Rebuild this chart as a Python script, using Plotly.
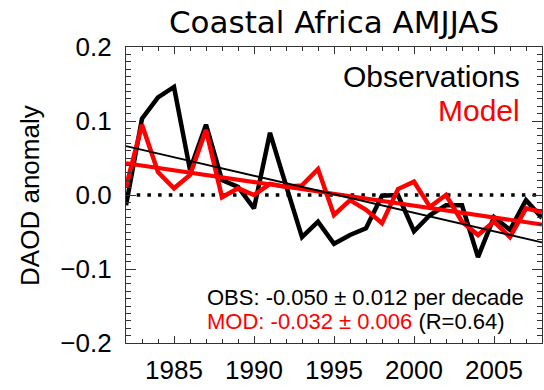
import plotly.graph_objects as go

years = list(range(1982, 2009))
obs = [-0.014, 0.103, 0.132, 0.146, 0.034, 0.095, 0.020, 0.011, -0.018, 0.084,
       0.013, -0.057, -0.036, -0.066, -0.054, -0.045, -0.001, 0.000, -0.049, -0.027,
       -0.014, -0.014, -0.084, -0.030, -0.047, -0.007, -0.031]
mod = [0.011, 0.095, 0.031, 0.009, 0.027, 0.088, -0.003, 0.009, 0.000, 0.015,
       0.011, 0.013, 0.035, -0.027, -0.007, -0.020, -0.038, 0.008, 0.018, -0.016,
       0.000, -0.036, -0.054, -0.036, -0.057, -0.018, -0.023]
trend_years = [1982, 2008]
obs_trend = [0.066, -0.064]
mod_trend = [0.043, -0.040]
zero_line = [0.0, 0.0]

RED = "#ff0000"
ARIAL = "Liberation Sans, Arial, sans-serif"

fig = go.Figure()
fig.add_trace(go.Scatter(x=trend_years, y=zero_line, mode="lines",
                         line=dict(color="black", width=3.5, dash="3.5px,7.2px")))
fig.add_trace(go.Scatter(x=years, y=obs, mode="lines",
                         line=dict(color="black", width=4.5)))
fig.add_trace(go.Scatter(x=years, y=mod, mode="lines",
                         line=dict(color=RED, width=4.5)))
fig.add_trace(go.Scatter(x=trend_years, y=mod_trend, mode="lines",
                         line=dict(color=RED, width=4)))
fig.add_trace(go.Scatter(x=trend_years, y=obs_trend, mode="lines",
                         line=dict(color="black", width=1.8)))

axis_common = dict(showline=True, linecolor="#333", linewidth=1.2, mirror="allticks",
                   ticks="inside", tickcolor="#333", showgrid=False, zeroline=False,
                   tickfont=dict(family=ARIAL, size=26, color="black"))

fig.update_xaxes(range=[1982, 2008], tick0=1985, dtick=5, ticklen=7, tickwidth=1,
                 ticklabelstandoff=4,
                 minor=dict(ticks="inside", dtick=1, ticklen=3.5, tickcolor="#333", tickwidth=1),
                 **axis_common)
fig.update_yaxes(range=[-0.2, 0.2], dtick=0.1, tickformat=".1f", ticklen=10, tickwidth=1,
                 ticklabelstandoff=8,
                 minor=dict(ticks="inside", dtick=0.01, ticklen=5, tickcolor="#333", tickwidth=1),
                 **axis_common)

fig.update_layout(
    width=544, height=390,
    margin=dict(l=126, r=2, t=47, b=47),
    paper_bgcolor="white", plot_bgcolor="white",
    showlegend=False,
    title=dict(text="Coastal Africa AMJJAS", xref="container", yref="container",
               x=0.614, y=0.944, xanchor="center", yanchor="middle",
               font=dict(family="DejaVu Sans, sans-serif", size=31, color="black")),
    annotations=[
        dict(text="DAOD anomaly", xref="paper", yref="paper", x=-0.231, y=0.5,
             textangle=-90, showarrow=False, xanchor="center", yanchor="middle",
             font=dict(family=ARIAL, size=26, color="black")),
        dict(text="Observations", xref="paper", yref="paper", x=0.952, y=0.902,
             showarrow=False, xanchor="right", yanchor="middle",
             font=dict(family=ARIAL, size=30, color="black")),
        dict(text="Model", xref="paper", yref="paper", x=0.952, y=0.787,
             showarrow=False, xanchor="right", yanchor="middle",
             font=dict(family=ARIAL, size=30, color=RED)),
        dict(text="OBS: -0.050 ± 0.012 per decade", xref="paper", yref="paper",
             x=0.19, y=0.155, showarrow=False, xanchor="left", yanchor="middle",
             font=dict(family=ARIAL, size=22, color="black")),
        dict(text="<span style='color:#ff0000'>MOD: -0.032 ± 0.006</span> (R=0.64)",
             xref="paper", yref="paper",
             x=0.19, y=0.071, showarrow=False, xanchor="left", yanchor="middle",
             font=dict(family=ARIAL, size=22, color="black")),
    ],
)

fig.write_html("out.html")
